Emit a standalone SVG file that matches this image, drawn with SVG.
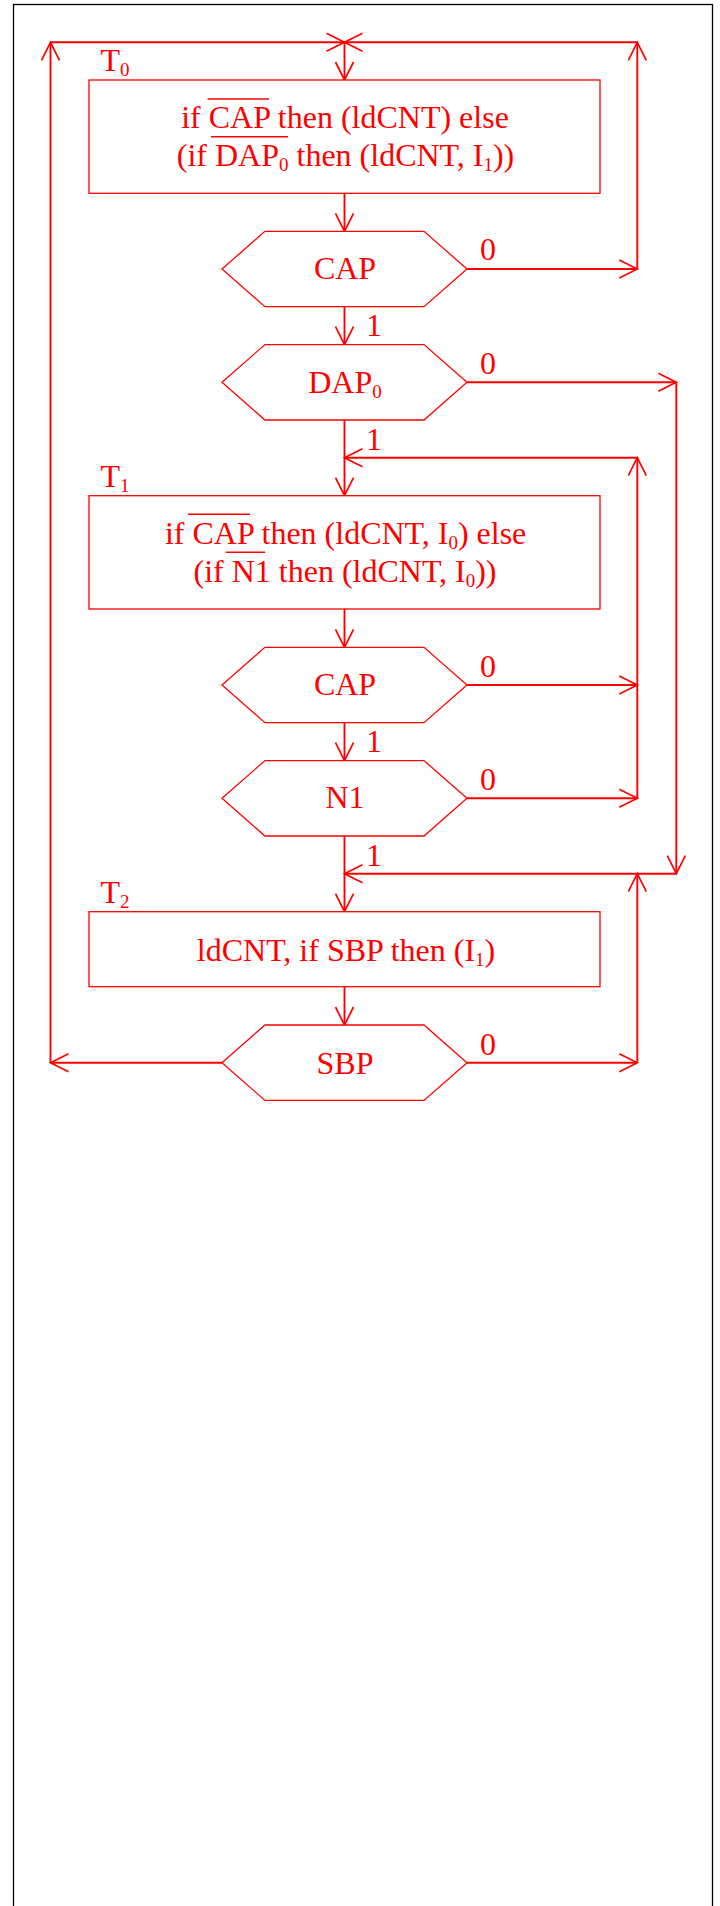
<svg xmlns="http://www.w3.org/2000/svg" width="720" height="1906" viewBox="0 0 720 1906">
<style>
.c{stroke:#ff0000;stroke-width:1.9;fill:none;marker-end:url(#ah)}
.n{stroke:#ff0000;stroke-width:1.3;fill:#ffffff}
.ov{stroke:#ff0000;stroke-width:1.6}
.t{font-family:"Liberation Serif","Times New Roman",serif;font-size:32px;fill:#ff0000}
.m{text-anchor:middle}
.s{font-size:19px}
</style>
<defs>
<marker id="ah" markerUnits="userSpaceOnUse" markerWidth="24" markerHeight="24" refX="0" refY="0" viewBox="-20 -12 24 24" orient="auto">
<path d="M-18,-9 L0,0 L-18,9" fill="none" stroke="#ff0000" stroke-width="1.7"/>
</marker>
</defs>
<rect x="0" y="0" width="720" height="1906" fill="#ffffff"/>
<rect x="13.5" y="4.5" width="699" height="1920" fill="none" stroke="#000000" stroke-width="1.3"/>

<g id="connectors">
<line class="c" x1="222" y1="1062.7" x2="50.5" y2="1062.7"/>
<line class="c" x1="50.5" y1="1062.7" x2="50.5" y2="42.3"/>
<line class="c" x1="50.5" y1="42.3" x2="344.5" y2="42.3"/>
<line class="c" x1="467" y1="269" x2="637.3" y2="269"/>
<line class="c" x1="637.3" y1="269" x2="637.3" y2="42.3"/>
<line class="c" x1="637.3" y1="42.3" x2="344.5" y2="42.3"/>
<line class="c" x1="344.5" y1="42.3" x2="344.5" y2="80"/>
<line class="c" x1="344.5" y1="193.3" x2="344.5" y2="231.3"/>
<line class="c" x1="344.5" y1="306.7" x2="344.5" y2="344.6"/>
<line class="c" x1="467" y1="382.3" x2="676.3" y2="382.3"/>
<line class="c" x1="676.3" y1="382.3" x2="676.3" y2="873.7"/>
<line class="c" x1="676.3" y1="873.7" x2="344.5" y2="873.7"/>
<line class="c" x1="344.5" y1="420" x2="344.5" y2="495.7"/>
<line class="c" x1="467" y1="685" x2="637.3" y2="685"/>
<line class="c" x1="467" y1="798.3" x2="637.3" y2="798.3"/>
<line class="c" x1="637.3" y1="798.3" x2="637.3" y2="457.7"/>
<line class="c" x1="637.3" y1="457.7" x2="344.5" y2="457.7"/>
<line class="c" x1="344.5" y1="609" x2="344.5" y2="647.3"/>
<line class="c" x1="344.5" y1="722.7" x2="344.5" y2="760.6"/>
<line class="c" x1="344.5" y1="836" x2="344.5" y2="911.7"/>
<line class="c" x1="344.5" y1="986.7" x2="344.5" y2="1025"/>
<line class="c" x1="467" y1="1062.7" x2="637.3" y2="1062.7"/>
<line class="c" x1="637.3" y1="1062.7" x2="637.3" y2="873.7"/>
<text class="t" x="480" y="260">0</text>
<text class="t" x="366" y="336">1</text>
<text class="t" x="480" y="374">0</text>
<text class="t" x="366" y="450">1</text>
<text class="t" x="480" y="677">0</text>
<text class="t" x="366" y="752">1</text>
<text class="t" x="480" y="790">0</text>
<text class="t" x="366" y="865.5">1</text>
<text class="t" x="480" y="1055">0</text>
</g>

<g id="T0">
<rect class="n" x="89" y="80" width="511" height="113.3"/>
<text class="t" x="100.5" y="70.7">T<tspan class="s" dy="5">0</tspan></text>
<text class="t m" x="345" y="128">if CAP then (ldCNT) else</text>
<text class="t m" x="345.5" y="165.7">(if DAP<tspan class="s" dy="5">0</tspan><tspan dy="-5"> then (ldCNT, I</tspan><tspan class="s" dy="5">1</tspan><tspan dy="-5">))</tspan></text>
<line class="ov" x1="207.5" y1="99" x2="269" y2="99"/>
<line class="ov" x1="211" y1="136.7" x2="288" y2="136.7"/>
</g>

<g id="CAP1">
<polygon class="n" points="222,269 265,231.3 424,231.3 467,269 424,306.7 265,306.7"/>
<text class="t m" x="345" y="278.5">CAP</text>
</g>

<g id="DAP0">
<polygon class="n" points="222,382.3 265,344.6 424,344.6 467,382.3 424,420 265,420"/>
<text class="t m" x="345" y="392.7">DAP<tspan class="s" dy="5">0</tspan></text>
</g>

<g id="T1">
<rect class="n" x="89" y="495.7" width="511" height="113.3"/>
<text class="t" x="100.5" y="486.7">T<tspan class="s" dy="5">1</tspan></text>
<text class="t m" x="345.6" y="543.5">if CAP then (ldCNT, I<tspan class="s" dy="5">0</tspan><tspan dy="-5">) else</tspan></text>
<text class="t m" x="345" y="581.5">(if N1 then (ldCNT, I<tspan class="s" dy="5">0</tspan><tspan dy="-5">))</tspan></text>
<line class="ov" x1="188" y1="514.3" x2="250" y2="514.3"/>
<line class="ov" x1="226" y1="552.3" x2="265" y2="552.3"/>
</g>

<g id="CAP2">
<polygon class="n" points="222,685 265,647.3 424,647.3 467,685 424,722.7 265,722.7"/>
<text class="t m" x="345" y="694.5">CAP</text>
</g>

<g id="N1">
<polygon class="n" points="222,798.3 265,760.6 424,760.6 467,798.3 424,836 265,836"/>
<text class="t m" x="345" y="808.3">N1</text>
</g>

<g id="T2">
<rect class="n" x="89" y="911.7" width="511" height="75"/>
<text class="t" x="100.5" y="903">T<tspan class="s" dy="5">2</tspan></text>
<text class="t m" x="346" y="960.7">ldCNT, if SBP then (I<tspan class="s" dy="5">1</tspan><tspan dy="-5">)</tspan></text>
</g>

<g id="SBP">
<polygon class="n" points="222,1062.7 265,1025 424,1025 467,1062.7 424,1100.4 265,1100.4"/>
<text class="t m" x="345" y="1073.5">SBP</text>
</g>
</svg>
